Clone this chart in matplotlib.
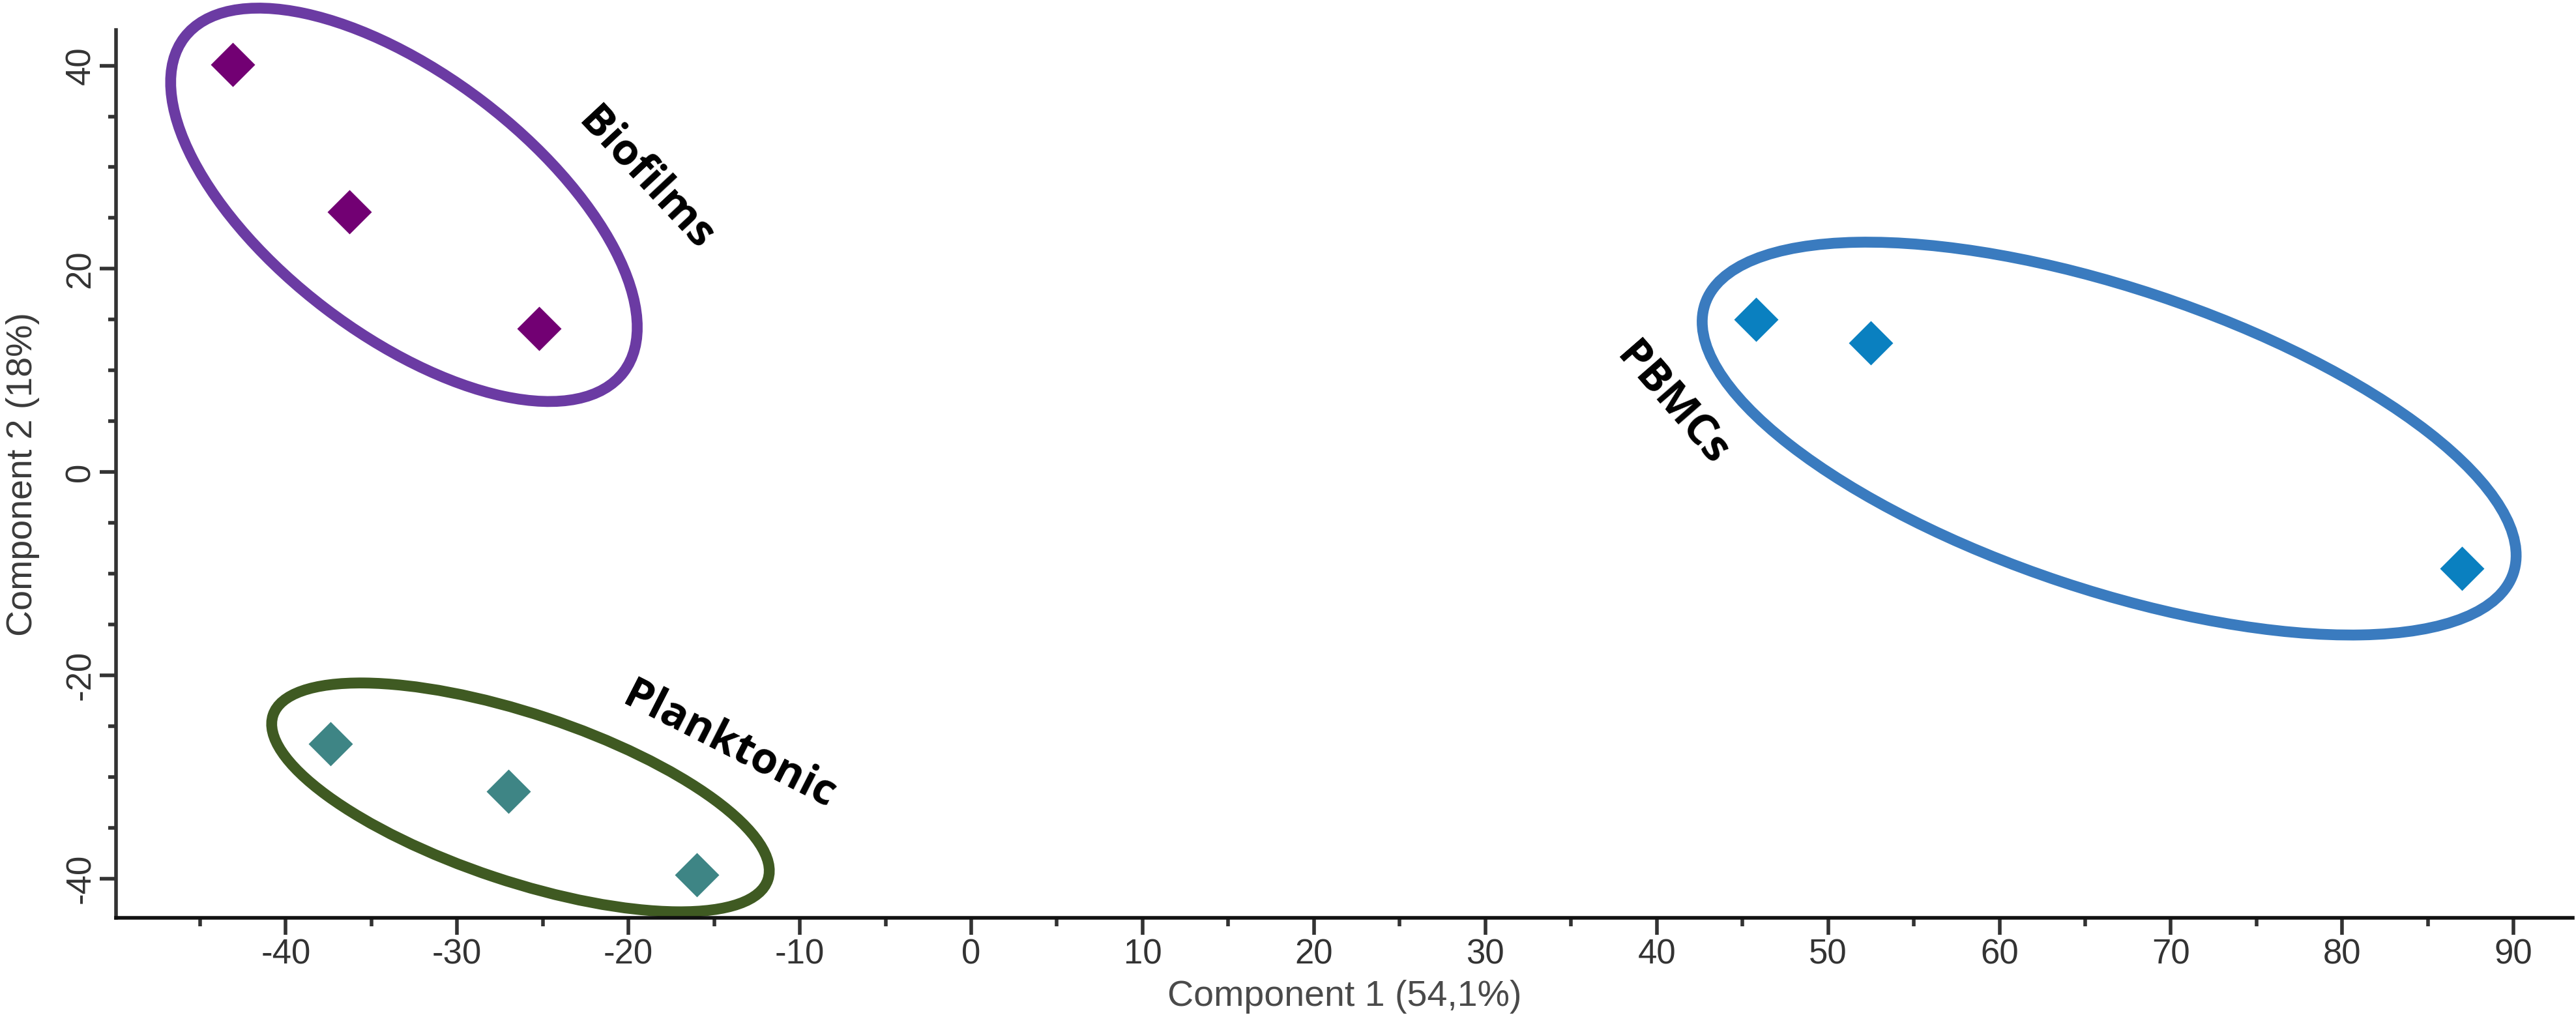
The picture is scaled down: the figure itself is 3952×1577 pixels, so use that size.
import matplotlib
matplotlib.use('Agg')
import matplotlib.pyplot as plt
from matplotlib.patches import Ellipse
from matplotlib.transforms import IdentityTransform
from matplotlib.ticker import MultipleLocator

# PCA scores
biofilms_x = [-43.1, -36.3, -25.2]
biofilms_y = [40.1, 25.6, 14.1]
planktonic_x = [-37.4, -27.0, -16.0]
planktonic_y = [-26.7, -31.4, -39.6]
pbmcs_x = [45.8, 52.5, 87.0]
pbmcs_y = [15.0, 12.7, -9.5]

group_names = ['Biofilms', 'Planktonic', 'PBMCs']
x_ticks = list(range(-40, 91, 10))
y_ticks = [-40, -20, 0, 20, 40]
x_label = 'Component 1 (54,1%)'
y_label = 'Component 2 (18%)'

plt.rcParams['font.family'] = ['Liberation Sans', 'DejaVu Sans']
plt.rcParams['axes.unicode_minus'] = False

W, H, DPI = 3952, 1577, 100
fig = plt.figure(figsize=(W / DPI, H / DPI), dpi=DPI)
fig.patch.set_facecolor('white')
ax = fig.add_axes([178 / W, (H - 1408) / H, (3947 - 178) / W, (1408 - 46) / H])

marker_colors = ['#720073', '#3E8585', '#0A80C0']
ring_colors = ['#6B3BA3', '#3F5A22', '#3A7BBF']

ax.plot(biofilms_x, biofilms_y, 'D', ms=35, color=marker_colors[0], mec='none', zorder=3)
ax.plot(planktonic_x, planktonic_y, 'D', ms=35, color=marker_colors[1], mec='none', zorder=3)
ax.plot(pbmcs_x, pbmcs_y, 'D', ms=35, color=marker_colors[2], mec='none', zorder=3)

ax.set_xlim(-49.9, 93.45)
ax.set_ylim(-43.85, 43.5)

ax.set_xticks(x_ticks)
ax.set_yticks(y_ticks)
ax.xaxis.set_minor_locator(MultipleLocator(5))
ax.yaxis.set_minor_locator(MultipleLocator(5))

for s in ['top', 'right']:
    ax.spines[s].set_visible(False)
ax.spines['left'].set_color('#333333')
ax.spines['left'].set_linewidth(4)
ax.spines['bottom'].set_color('#111111')
ax.spines['bottom'].set_linewidth(4)

ax.tick_params(axis='both', which='both', color='#333333', width=4, direction='out')
ax.tick_params(axis='x', which='major', length=19, pad=4, labelsize=38, labelcolor='#333333')
ax.tick_params(axis='x', which='minor', length=9)
ax.tick_params(axis='y', which='major', length=18, pad=3, labelsize=38, labelcolor='#333333',
               labelrotation=90)
ax.tick_params(axis='y', which='minor', length=9)
for lab in ax.get_yticklabels():
    lab.set_va('center')

ax.set_xlabel(x_label, fontsize=40, color='#4a4a4a')
ax.set_ylabel(y_label, fontsize=40, color='#3a3a3a')
ax.xaxis.set_label_coords(0.5, -0.07)
ax.yaxis.set_label_coords(-0.031, 0.5)

# hand-drawn style group rings, sized in output pixels
rings = [
    ((-33.1, 26.3), 847, 399, -37.3),
    ((-26.3, -32.0), 800, 257, -18.4),
    ((66.4, 3.3), 1307, 463, -18.4),
]
for (center, w, h, ang), col in zip(rings, ring_colors):
    cx, cy = ax.transData.transform(center)
    e = Ellipse((cx, cy), w, h, angle=ang, fill=False, edgecolor=col, linewidth=12,
                transform=IdentityTransform(), clip_on=False, zorder=2)
    ax.add_patch(e)

# group names
label_pos = [(-19.0, 28.8, -47), (-14.1, -26.9, -27), (40.9, 6.7, -49)]
for name, (tx, ty, rot) in zip(group_names, label_pos):
    ax.text(tx, ty, name, rotation=rot, rotation_mode='anchor', ha='center', va='center',
            fontsize=48, fontweight='bold', family=['Open Sans', 'DejaVu Sans'], color='black')

fig.savefig('out.png', dpi=DPI, facecolor='white')
